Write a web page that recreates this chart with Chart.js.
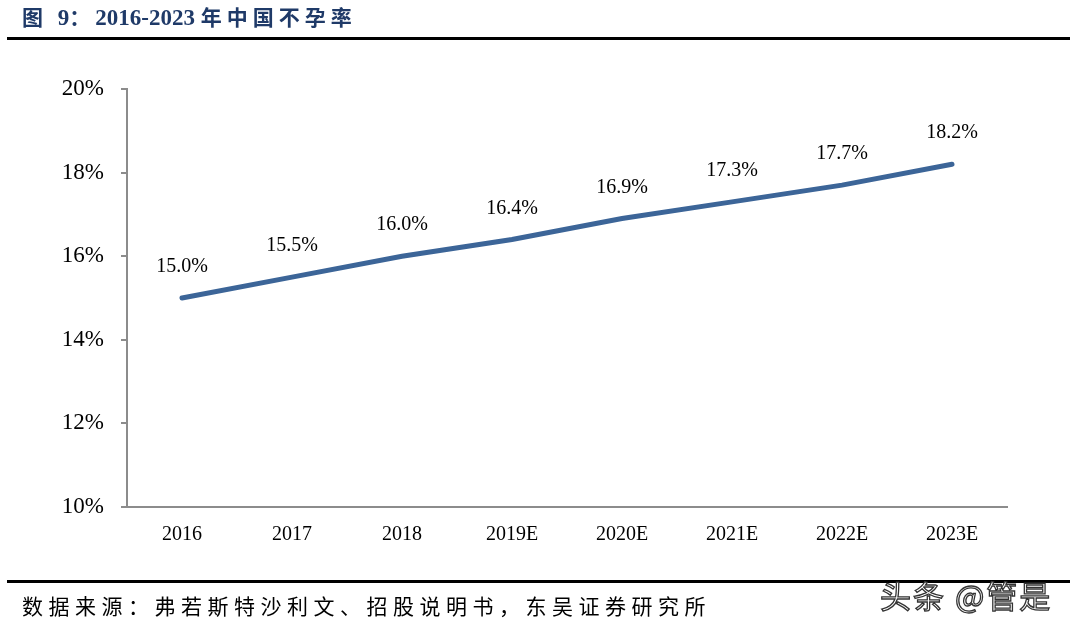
<!DOCTYPE html>
<html>
<head>
<meta charset="utf-8">
<script src="https://cdn.jsdelivr.net/npm/chart.js@4"></script>
<style>
  html, body { margin: 0; padding: 0; background: #fff; }
  #wrap { position: relative; width: 1081px; height: 624px; overflow: hidden; }
  #c { position: absolute; left: 0; top: 0; }
  .title { position: absolute; left: 22px; top: 1px; font: bold 23px "Liberation Serif", "Noto Sans CJK SC", serif; color: #1f3a68; white-space: nowrap; }
  .title .cjk { font-family: "Noto Sans CJK SC", sans-serif; font-size: 21px; letter-spacing: 5px; }
  .rule { position: absolute; left: 7px; width: 1063px; height: 3px; background: #000; }
  .src { position: absolute; left: 22px; top: 590px; font: 21px "Noto Sans CJK SC", serif; color: #000; letter-spacing: 5.5px; white-space: nowrap; }
  .wm { position: absolute; left: 880px; top: 572px; font: 31px "Noto Sans CJK SC", sans-serif; color: #fff; -webkit-text-stroke: 1.3px #333; letter-spacing: 2px; white-space: nowrap; }
</style>
</head>
<body>
<div id="wrap">
  <canvas id="c" width="1081" height="624"></canvas>
  <div class="title"><span class="cjk">图 </span>9<span class="cjk">：</span>2016-2023 <span class="cjk">年中国不孕率</span></div>
  <div class="rule" style="top:37px"></div>
  <div class="rule" style="top:580px"></div>
  <div class="src">数据来源：弗若斯特沙利文、招股说明书，东吴证券研究所</div>
  <div class="wm">头条 @管是</div>
</div>
<script>
const years = ['2016', '2017', '2018', '2019E', '2020E', '2021E', '2022E', '2023E'];
const rates = [15.0, 15.5, 16.0, 16.4, 16.9, 17.3, 17.7, 18.2];
const yTicks = [10, 12, 14, 16, 18, 20];

// 数据标签
const labelPlugin = {
  id: 'labels',
  afterDatasetsDraw(chart) {
    const ctx = chart.ctx;
    const meta = chart.getDatasetMeta(0);
    ctx.save();
    ctx.font = '20px "Liberation Serif", serif';
    ctx.fillStyle = '#000';
    ctx.textAlign = 'center';
    ctx.textBaseline = 'middle';
    meta.data.forEach((pt, i) => {
      ctx.fillText(rates[i].toFixed(1) + '%', pt.x, pt.y - 31);
    });
    ctx.restore();
  }
};

new Chart(document.getElementById('c'), {
  type: 'line',
  data: {
    labels: years,
    datasets: [{
      data: rates,
      borderColor: '#3c6598',
      borderWidth: 5,
      borderCapStyle: 'round',
      pointRadius: 0,
      tension: 0
    }]
  },
  options: {
    responsive: false,
    animation: false,
    layout: { padding: { left: 0, right: 74, top: 89, bottom: 67 } },
    plugins: { legend: { display: false }, tooltip: { enabled: false } },
    scales: {
      x: {
        offset: true,
        grid: { display: false, offset: true },
        border: { color: '#8c8c8c', width: 2 },
        ticks: { color: '#000', padding: 8, font: { family: 'Liberation Serif', size: 20 } },
        afterFit(s) { s.height = 50; }
      },
      y: {
        min: 10,
        max: 20,
        afterBuildTicks(s) { s.ticks = yTicks.map(v => ({ value: v })); },
        grid: { drawOnChartArea: false, tickLength: 6, color: '#8c8c8c', lineWidth: 2 },
        border: { color: '#8c8c8c', width: 2 },
        ticks: { color: '#000', padding: 17, callback: v => v + '%', font: { family: 'Liberation Serif', size: 23 } },
        afterFit(s) { s.width = 127; }
      }
    }
  },
  plugins: [labelPlugin]
});
</script>
</body>
</html>
